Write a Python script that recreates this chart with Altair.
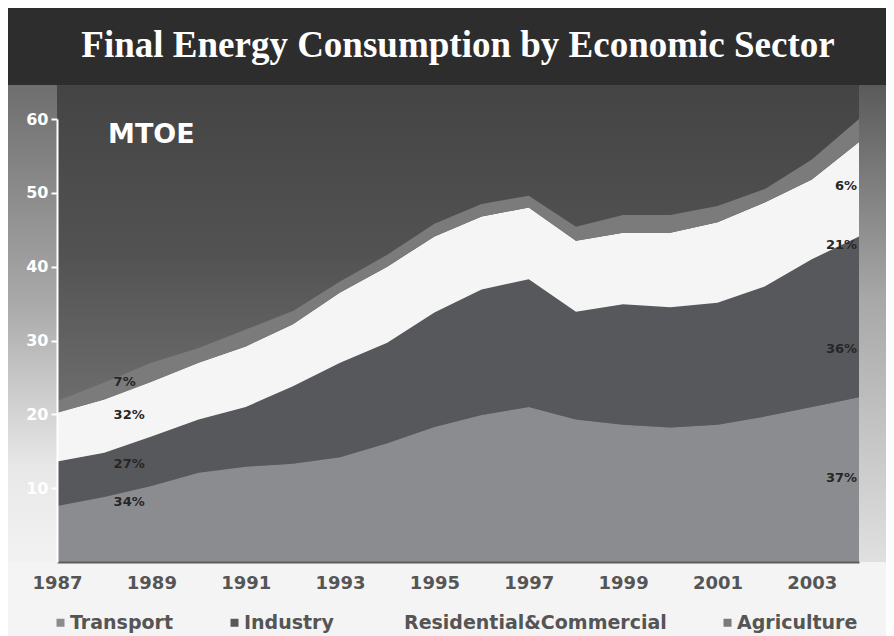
import altair as alt
import pandas as pd

# ---- data (MTOE, stacked) ----
years = list(range(1987, 2005))
sectors = ["Transport", "Industry", "Residential&Commercial", "Agriculture"]
transport = [7.6, 8.8, 10.3, 12.1, 12.9, 13.3, 14.2, 16.1, 18.3, 19.9, 21.0, 19.3, 18.6, 18.2, 18.6, 19.7, 21.0, 22.3]
industry = [6.0, 6.0, 6.7, 7.2, 8.1, 10.5, 12.8, 13.6, 15.5, 17.0, 17.3, 14.6, 16.3, 16.3, 16.5, 17.6, 20.0, 21.8]
residential = [6.6, 7.2, 7.4, 7.7, 8.2, 8.4, 9.5, 10.3, 10.3, 9.9, 9.7, 9.6, 9.7, 10.1, 10.9, 11.4, 10.8, 12.8]
agriculture = [1.6, 2.3, 2.6, 2.0, 2.3, 1.8, 1.5, 1.6, 1.7, 1.7, 1.6, 1.9, 2.4, 2.4, 2.2, 1.8, 2.7, 3.1]
sector_colors = ["#8b8c90", "#57585b", "#f5f5f5", "#7b7b7b"]

tick_years = [1987, 1989, 1991, 1993, 1995, 1997, 1999, 2001, 2003]
y_ticks = [10, 20, 30, 40, 50, 60]

# share labels (first and last year)
left_labels = ["7%", "32%", "27%", "34%"]
left_values = [24.4, 19.9, 13.3, 8.1]
left_year = 1988.2
right_labels = ["6%", "21%", "36%", "37%"]
right_values = [50.9, 43.0, 28.8, 11.4]
right_year = 2003.96

unit_label = "MTOE"
unit_year = 1989.0
unit_value = 57.9

rows = []
for i, y in enumerate(years):
    for k, (name, vals) in enumerate(zip(sectors, [transport, industry, residential, agriculture])):
        rows.append({"year": y, "sector": name, "value": vals[i], "ord": k})
df = pd.DataFrame(rows)

W, H = 802, 443
PAD = {"left": 49, "top": 111, "right": 27, "bottom": 90}

one = pd.DataFrame({"a": [0]})

# ---- decorative background panels ----
title_bar = alt.Chart(one).mark_rect(fill="#2d2d2d").encode(
    x=alt.value(-PAD["left"]), x2=alt.value(W + PAD["right"]),
    y=alt.value(-PAD["top"]), y2=alt.value(-34))

main_bg = alt.Chart(one).mark_rect(
    fill=alt.LinearGradient(
        gradient="linear", x1=0, y1=0, x2=0, y2=1,
        stops=[alt.GradientStop(color="#444444", offset=0),
               alt.GradientStop(color="#525252", offset=0.35),
               alt.GradientStop(color="#747474", offset=0.75),
               alt.GradientStop(color="#959595", offset=1)])
).encode(x=alt.value(0), x2=alt.value(W), y=alt.value(-34), y2=alt.value(H))

left_bg = alt.Chart(one).mark_rect(
    fill=alt.LinearGradient(
        gradient="linear", x1=0, y1=0, x2=0, y2=1,
        stops=[alt.GradientStop(color="#6e6e6e", offset=0),
               alt.GradientStop(color="#a8a8a8", offset=0.45),
               alt.GradientStop(color="#e8e8e8", offset=0.8),
               alt.GradientStop(color="#f2f2f2", offset=1)])
).encode(x=alt.value(-PAD["left"]), x2=alt.value(0), y=alt.value(-34), y2=alt.value(H))

right_bg = alt.Chart(one).mark_rect(
    fill=alt.LinearGradient(
        gradient="linear", x1=0, y1=0, x2=0, y2=1,
        stops=[alt.GradientStop(color="#5a5a5a", offset=0),
               alt.GradientStop(color="#a8a8a8", offset=0.45),
               alt.GradientStop(color="#e0e0e0", offset=1)])
).encode(x=alt.value(W), x2=alt.value(W + PAD["right"]), y=alt.value(-34), y2=alt.value(H))

# ---- stacked areas ----
areas = alt.Chart(df).mark_area(interpolate="linear").encode(
    x=alt.X("year:Q",
            scale=alt.Scale(domain=[1987, 2004], nice=False, zero=False),
            axis=alt.Axis(values=tick_years, format="d", title=None, grid=False, ticks=False,
                          domainColor="#5c5c5c", domainWidth=2, labelColor="#555555",
                          labelFont="DejaVu Sans", labelFontWeight="bold", labelFontSize=18,
                          labelPadding=12, labelFlush=False, zindex=1)),
    y=alt.Y("value:Q", stack="zero",
            scale=alt.Scale(domain=[0, 60], nice=False),
            axis=alt.Axis(values=y_ticks, title=None, grid=False,
                          domainColor="white", domainWidth=2,
                          tickColor="white", tickWidth=2, tickSize=6,
                          labelColor="white", labelFont="DejaVu Sans", labelFontWeight="bold",
                          labelFontSize=16, labelPadding=3, zindex=1)),
    color=alt.Color("sector:N",
                    scale=alt.Scale(domain=sectors, range=sector_colors),
                    legend=alt.Legend(title=None, orient="none", legendX=-6, legendY=494,
                                      direction="horizontal", columns=4,
                                      symbolType="square", symbolSize=64, symbolStrokeWidth=0,
                                      labelFont="DejaVu Sans", labelFontWeight="bold",
                                      labelFontSize=19, labelColor="#555555",
                                      columnPadding=51, labelOffset=0, labelLimit=400)),
    order=alt.Order("ord:Q", sort="ascending"),
)

left_df = pd.DataFrame({"year": [left_year] * 4, "value": left_values, "label": left_labels})
right_df = pd.DataFrame({"year": [right_year] * 4, "value": right_values, "label": right_labels})

left_text = alt.Chart(left_df).mark_text(
    align="left", baseline="middle", font="DejaVu Sans", fontWeight="bold",
    fontSize=13, color="#262626").encode(x="year:Q", y="value:Q", text="label:N")
right_text = alt.Chart(right_df).mark_text(
    align="right", baseline="middle", font="DejaVu Sans", fontWeight="bold",
    fontSize=13, color="#262626").encode(x="year:Q", y="value:Q", text="label:N")

unit_df = pd.DataFrame({"year": [unit_year], "value": [unit_value], "label": [unit_label]})
unit_text = alt.Chart(unit_df).mark_text(
    align="center", baseline="middle", font="DejaVu Sans", fontWeight="bold",
    fontSize=27, color="white").encode(x="year:Q", y="value:Q", text="label:N")

chart = alt.layer(
    title_bar, main_bg, left_bg, right_bg, areas, left_text, right_text, unit_text
).properties(
    width=W, height=H,
    padding=PAD,
    autosize=alt.AutoSizeParams(type="none"),
    background="#f4f4f4",
    title=alt.TitleParams("Final Energy Consumption by Economic Sector",
                          font="Liberation Serif", fontSize=37, fontWeight="bold",
                          color="white", anchor="middle", offset=0, dy=94,
                          baseline="bottom", zindex=1),
).configure_view(stroke=None)

chart.save("out.html", embed_options={"renderer": "svg", "actions": False})
